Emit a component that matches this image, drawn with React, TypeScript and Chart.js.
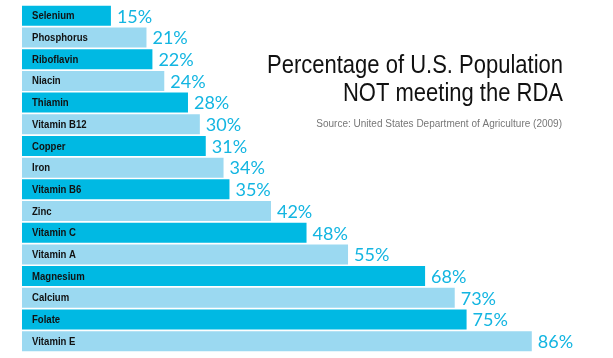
import React, { useEffect, useRef } from "react";
import { Chart, registerables } from "chart.js";

Chart.register(...registerables);

const nutrients = [
  "Selenium", "Phosphorus", "Riboflavin", "Niacin", "Thiamin", "Vitamin B12",
  "Copper", "Iron", "Vitamin B6", "Zinc", "Vitamin C", "Vitamin A",
  "Magnesium", "Calcium", "Folate", "Vitamin E",
];
const percentNotMeeting = [15, 21, 22, 24, 28, 30, 31, 34, 35, 42, 48, 55, 68, 73, 75, 86];
const titleLines = ["Percentage of U.S. Population", "NOT meeting the RDA"];
const sourceText = "Source: United States Department of Agriculture (2009)";

const DARK = "#00B9E3";
const LIGHT = "#9BD9F1";
const VALUE_COLOR = "#13B5E1";

function condensedText(ctx: CanvasRenderingContext2D, text: string, x: number, y: number, sx: number) {
  ctx.save();
  ctx.translate(x, y);
  ctx.scale(sx, 1);
  ctx.fillText(text, 0, 0);
  ctx.restore();
}

const overlayPlugin = {
  id: "overlay",
  afterDatasetsDraw(chart: any) {
    const ctx = chart.ctx;
    const meta = chart.getDatasetMeta(0);
    ctx.save();
    meta.data.forEach((bar: any, i: number) => {
      const y = bar.y;
      ctx.textBaseline = "middle";
      ctx.textAlign = "left";
      ctx.fillStyle = "#111";
      ctx.font = "bold 11px 'Liberation Sans', sans-serif";
      condensedText(ctx, nutrients[i], chart.chartArea.left + 10, y + 0.5, 0.87);
      ctx.fillStyle = VALUE_COLOR;
      ctx.font = "18px Lato, sans-serif";
      ctx.fillText(percentNotMeeting[i] + "%", bar.x + 6, y + 1);
    });
    ctx.textAlign = "right";
    ctx.textBaseline = "alphabetic";
    ctx.fillStyle = "#111";
    ctx.font = "25px 'Liberation Sans', sans-serif";
    condensedText(ctx, titleLines[0], 563, 73, 0.88);
    condensedText(ctx, titleLines[1], 563, 101, 0.88);
    ctx.fillStyle = "#777";
    ctx.font = "10px 'Liberation Sans', sans-serif";
    ctx.fillText(sourceText, 562, 127);
    ctx.restore();
  },
};

export default function App() {
  const ref = useRef<HTMLCanvasElement>(null);
  useEffect(() => {
    if (!ref.current) return;
    const chart = new Chart(ref.current, {
      type: "bar",
      data: {
        labels: nutrients,
        datasets: [
          {
            data: percentNotMeeting,
            backgroundColor: nutrients.map((_, i) => (i % 2 === 0 ? DARK : LIGHT)),
            borderWidth: 0,
            barPercentage: 0.92,
            categoryPercentage: 1,
          },
        ],
      },
      options: {
        indexAxis: "y",
        animation: false,
        responsive: false,
        maintainAspectRatio: false,
        layout: { padding: { left: 22, right: 0, top: 5, bottom: 6 } },
        scales: {
          x: { display: false, min: 0, max: 99.7 },
          y: { display: false },
        },
        plugins: { legend: { display: false }, tooltip: { enabled: false } },
      },
      plugins: [overlayPlugin],
    });
    return () => chart.destroy();
  }, []);
  return (
    <div style={{ position: "fixed", left: 0, top: 0, width: 613, height: 358, background: "#fff" }}>
      <canvas ref={ref} width={613} height={358} />
    </div>
  );
}
